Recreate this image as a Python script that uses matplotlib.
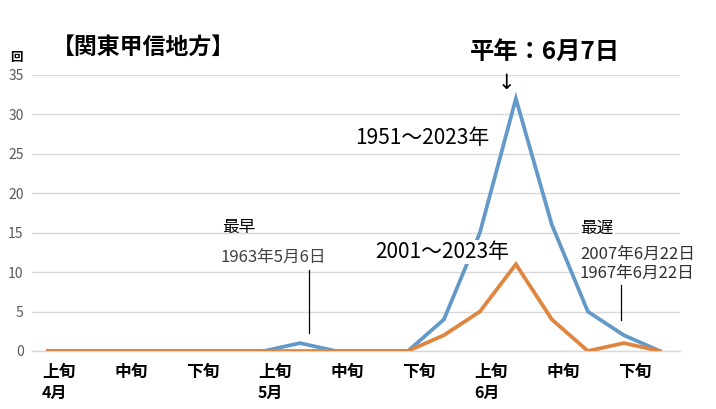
import numpy as np
import matplotlib.pyplot as plt

plt.rcParams['font.family'] = ['Noto Sans CJK JP', 'DejaVu Sans']

# half-dekad counts, early April .. late June (18 points)
all_years = [0, 0, 0, 0, 0, 0, 0, 1, 0, 0, 0, 4, 15, 32, 16, 5, 2, 0]
recent = [0, 0, 0, 0, 0, 0, 0, 0, 0, 0, 0, 2, 5, 11, 4, 0, 1, 0]
dekads = ['上旬', '中旬', '下旬'] * 3
months = ['4月', '5月', '6月']
yticks = [0, 5, 10, 15, 20, 25, 30, 35]

fig = plt.figure(figsize=(7.16, 4.09), dpi=100)
ax = fig.add_axes([32 / 716, 58 / 409, 648 / 716, 276 / 409])

x = np.arange(len(all_years))
ax.plot(x, all_years, color='#6399c8', lw=2.7, solid_joinstyle='miter', zorder=3)
ax.plot(x, recent, color='#e0853f', lw=2.7, solid_joinstyle='miter', zorder=4)

ax.set_xlim(-0.444, 17.56)
ax.set_ylim(0, 35)
ax.set_yticks(yticks)
ax.set_xticks([])
for s in ax.spines.values():
    s.set_visible(False)
ax.grid(axis='y', color='#d9d9d9', lw=1)
ax.set_axisbelow(True)
ax.axhline(0, color='#d9d9d9', lw=1, zorder=1, clip_on=False)
ax.tick_params(axis='y', length=0, pad=6, labelsize=10, labelcolor='#595959')

# x labels (dekads and months)
for j, lab in enumerate(dekads):
    ax.text(2 * j + 0.3, -2.7, lab, ha='center', va='center', fontsize=12,
            fontweight='bold', clip_on=False)
for j, m in enumerate(months):
    ax.text(6 * j + 0.3 - 0.47, -5.35, m, ha='left', va='center', fontsize=11.5,
            fontweight='bold', clip_on=False)

# titles
fig.text(52 / 716, 1 - 47 / 409, '【関東甲信地方】', ha='left', va='center', fontsize=16.5,
         fontweight='bold')
fig.text(16 / 716, 1 - 57 / 409, '回', ha='center', va='center', fontsize=9, fontweight='bold')
fig.text(545 / 716, 1 - 52 / 409, '平年：6月7日', ha='center', va='center', fontsize=17.5,
         fontweight='bold')
ax.text(12.75, 34.0, '↓', ha='center', va='center', fontsize=15,
        family=['DejaVu Sans'], clip_on=False)

box = dict(facecolor='white', edgecolor='none', pad=1)
ax.text(8.53, 27.0, '1951～2023年', ha='left', va='center', fontsize=15, bbox=box, zorder=5)
ax.text(9.08, 12.55, '2001～2023年', ha='left', va='center', fontsize=15, bbox=box, zorder=5)

ax.text(4.83, 15.7, '最早', ha='left', va='center', fontsize=12, zorder=5)
ax.text(4.78, 11.9, '1963年5月6日', ha='left', va='center', fontsize=12, color='#404040',
        bbox=box, zorder=5)
ax.plot([7.25, 7.25], [2.3, 10.3], color='black', lw=0.9, zorder=5)

ax.text(14.78, 15.6, '最遅', ha='left', va='center', fontsize=12, bbox=box, zorder=5)
ax.text(14.78, 12.2, '2007年6月22日', ha='left', va='center', fontsize=12, color='#303030',
        bbox=box, zorder=5, clip_on=False)
ax.text(14.78, 9.9, '1967年6月22日', ha='left', va='center', fontsize=12, color='#303030',
        bbox=box, zorder=5, clip_on=False)
ax.plot([15.92, 15.92], [3.9, 8.4], color='black', lw=0.9, zorder=5)

fig.savefig('out.png', dpi=100)
